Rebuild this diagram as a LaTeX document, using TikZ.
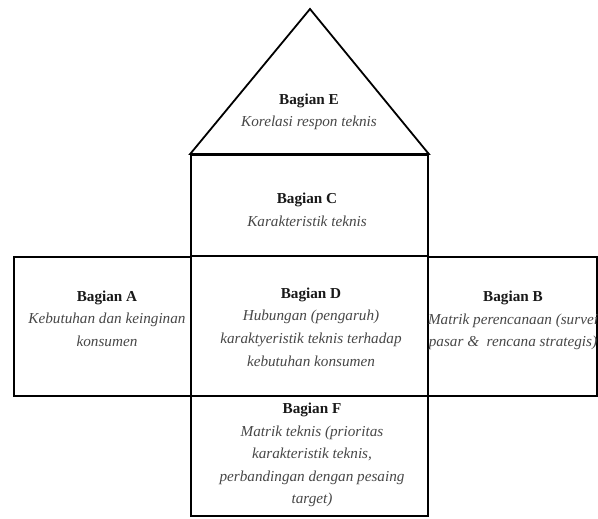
\documentclass[tikz,border=0pt]{standalone}
\usepackage{fontspec}
\setmainfont{Liberation Serif}
\definecolor{ttl}{gray}{0.10}
\definecolor{dsc}{gray}{0.28}
\newcommand{\bag}[1]{{\color{ttl}\bfseries #1}}
\newcommand{\dsc}[1]{{\color{dsc}\itshape #1}}
\begin{document}
\begin{tikzpicture}[x=1pt,y=-1pt,
  part/.style={draw=black, line width=1.8pt, rectangle, inner sep=0pt},
  label/.style={align=center, inner sep=0pt, font=\fontsize{15.2}{22.6}\selectfont}]
\useasboundingbox (0,0) rectangle (598,519);
% boxes
\node[part, minimum width=237pt, minimum height=101pt] (C) at (309.5,205.5) {};
\node[part, minimum width=237pt, minimum height=140pt] (D) at (309.5,326) {};
\node[part, minimum width=237pt, minimum height=120pt] (F) at (309.5,456) {};
\node[part, minimum width=177pt, minimum height=139pt] (A) at (102.5,326.5) {};
\node[part, minimum width=169pt, minimum height=139pt] (B) at (512.5,326.5) {};
% roof
\coordinate (apex) at (310,9);
\draw[line width=1.8pt, line join=miter] (C.north west) -- (apex) -- (C.north east) -- cycle;
% texts
\node[label] (tE) at (309,112) {\bag{Bagian E}\\ \dsc{Korelasi respon teknis}};
\node[label] (tC) at (307,210) {\bag{Bagian C}\\ \dsc{Karakteristik teknis}};
\node[label] (tD) at (311,327) {\bag{Bagian D}\\ \dsc{Hubungan (pengaruh)}\\ \dsc{karaktyeristik teknis terhadap}\\ \dsc{kebutuhan konsumen}};
\node[label] (tA) at (107,318.5) {\bag{Bagian A}\\ \dsc{Kebutuhan dan keinginan}\\ \dsc{konsumen}};
\node[label] (tB) at (513,320.5) {\bag{Bagian B}\\ \dsc{Matrik perencanaan (survei}\\ \dsc{pasar \& \ rencana strategis)}};
\node[label] (tF) at (312,455) {\bag{Bagian F}\\ \dsc{Matrik teknis (prioritas}\\ \dsc{karakteristik teknis,}\\ \dsc{perbandingan dengan pesaing}\\ \dsc{target)}};
\end{tikzpicture}
\end{document}
